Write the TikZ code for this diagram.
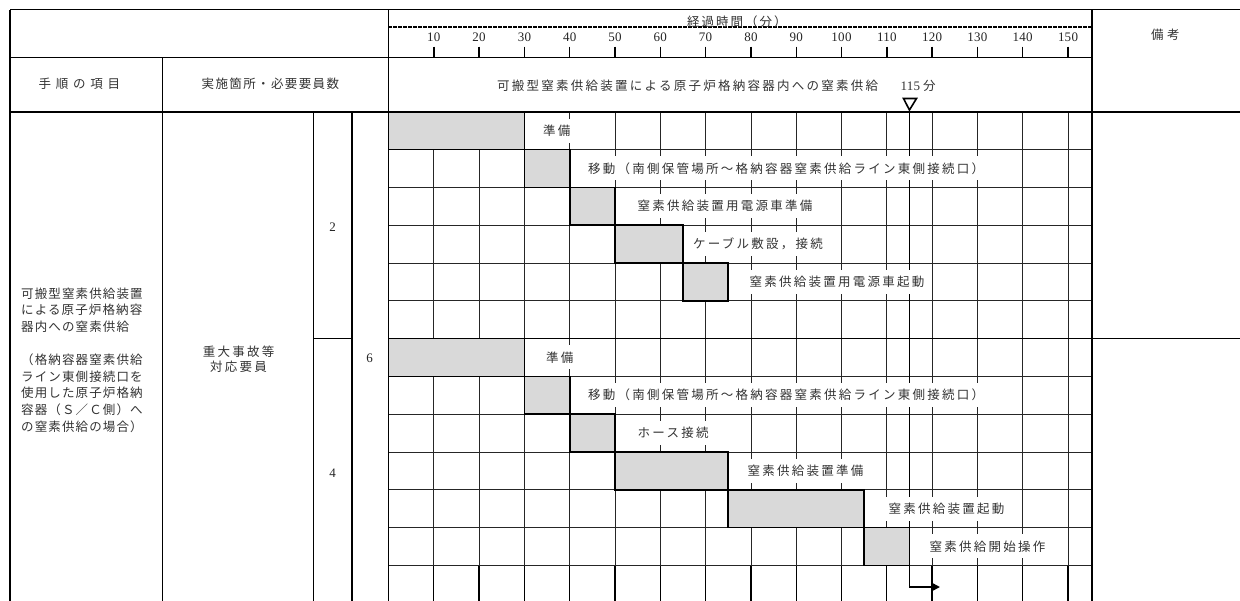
\documentclass[tikz,border=0pt]{standalone}
\usepackage{fontspec}
\setmainfont{Liberation Serif}
\newfontfamily\jpA{Noto Sans CJK JP}[LetterSpace=18]
\newfontfamily\jpB{Noto Sans CJK JP}[LetterSpace=9]
\newfontfamily\jpC{Noto Sans CJK JP}[LetterSpace=38]
\newfontfamily\jpD{Noto Sans CJK JP}[LetterSpace=11]
\newfontfamily\jpE{Noto Sans CJK JP}[LetterSpace=28]
\newfontfamily\jpF{Noto Sans CJK JP}[LetterSpace=16]
\newfontfamily\numf{Liberation Serif}[LetterSpace=2]
\usetikzlibrary{arrows.meta}
\newcommand{\tmX}[1]{388.5+4.53*(#1)}
\newcommand{\rwY}[1]{111.7+37.8*(#1)}
\tikzset{
  frameline/.style={line width=1.6pt, draw=black},
  midline/.style={line width=1.3pt, draw=black},
  gridline/.style={line width=0.8pt, draw=black!85},
  lowgrid/.style={line width=1.3pt, draw=black},
  tickline/.style={line width=1.4pt, draw=black},
  barbox/.style={fill=black!15, draw=black, line width=1.6pt},
  lbl/.style={fill=white, inner xsep=5pt, inner ysep=0pt, minimum height=24pt, anchor=west, text=black!80, font=\jpA\fontsize{12.5}{14}\selectfont},
  jtext/.style={inner sep=0pt, text=black!80},
  numtext/.style={inner sep=0pt, text=black!85, font=\numf\fontsize{13}{14}\selectfont},
}
\begin{document}
\begin{tikzpicture}[x=1pt,y=-1pt]
\useasboundingbox (0,0) rectangle (1240,600);
\fill[white] (0,0) rectangle (1240,600);
\clip (0,0) rectangle (1240,600);

% ---- grid in chart region ----
\foreach \t in {10,20,...,150}{
  \draw[gridline] ({\tmX{\t}},111.7) -- ({\tmX{\t}},{\rwY{12}});
  \draw[lowgrid] ({\tmX{\t}},{\rwY{12}}) -- ({\tmX{\t}},608);
  \draw[tickline] ({\tmX{\t}},46.5) -- ({\tmX{\t}},57.3);
  \node[numtext] (tick\t) at ({\tmX{\t}},37.5) {\t};
}
\foreach \r in {1,2,3,4,5,7,8,9,10,11,12}{
  \draw[gridline] (388.3,{\rwY{\r}}) -- (1091.7,{\rwY{\r}});
}

% ---- frame lines ----
\draw[frameline] (10,9.5) -- (1240,9.5);
\draw[frameline] (10,111.7) -- (1240,111.7);
\draw[midline] (10,57.3) -- (1091.7,57.3);
\draw[frameline] (313.3,{\rwY{6}}) -- (351.7,{\rwY{6}});
\draw[frameline] (388.3,{\rwY{6}}) -- (1240,{\rwY{6}});
\draw[frameline] (10,9.5) -- (10,608);
\draw[frameline] (388.3,9.5) -- (388.3,608);
\draw[frameline] (1091.7,9.5) -- (1091.7,608);
\draw[frameline] (162.3,57.3) -- (162.3,608);
\draw[frameline] (313.3,111.7) -- (313.3,608);
\draw[frameline] (351.7,111.7) -- (351.7,608);

% ---- time axis header ----
\draw[line width=1.6pt, dash pattern=on 3.5pt off 1.5pt] (388.3,27) -- (1091.7,27);
\node[jtext, anchor=west, font=\jpF\fontsize{12.5}{14}\selectfont] (elapsed) at (687,21.5) {経過時間（分）};
\node[jtext, anchor=west, font=\jpE\fontsize{12.5}{14}\selectfont] (remarks) at (1151,35) {備考};
\node[jtext, anchor=west, font=\jpC\fontsize{12.5}{14}\selectfont] (hitem) at (38.5,84) {手順の項目};
\node[jtext, anchor=west, font=\jpD\fontsize{12.5}{14}\selectfont] (hplace) at (201.5,84) {実施箇所・必要要員数};
\node[jtext, anchor=west, font=\jpA\fontsize{12.5}{14}\selectfont] (title) at (497,86) {可搬型窒素供給装置による原子炉格納容器内への窒素供給};
\node[jtext, anchor=west] (t115) at (900.5,86) {{\numf\fontsize{13}{14}\selectfont 115}\hspace{3pt}{\jpA\fontsize{12.5}{14}\selectfont 分}};
\draw[line width=1.6pt, line join=miter] (903.5,98.5) -- (916.5,98.5) -- ({\tmX{115}},110) -- cycle;

% ---- left columns ----
\node[jtext, anchor=west, align=left, font=\jpB\fontsize{12.5}{16.6}\selectfont] (proc) at (21,360)
  {可搬型窒素供給装置\\による原子炉格納容\\器内への窒素供給\\[16.6pt]（格納容器窒素供給\\ライン東側接続口を\\使用した原子炉格納\\容器（Ｓ／Ｃ側）へ\\の窒素供給の場合）};
\node[jtext, align=center, font=\jpA\fontsize{12.5}{14.5}\selectfont] (staff) at (238.5,359) {重大事故等\\対応要員};
\node[numtext] (n2) at (332.5,226.7) {2};
\node[numtext] (n4) at (332.5,473) {4};
\node[numtext] (n6) at (369.5,358) {6};

% ---- 115 min line ----
\coordinate (mtop) at ({\tmX{115}},111.7);
\coordinate (mbot) at ({\tmX{115}},587);
\coordinate (mend) at (940,587);
\draw[line width=1.8pt, -{Triangle[length=9pt,width=9pt]}] (mtop) -- (mbot) -- (mend);

% ---- bars ----
\foreach \r/\a/\b in {0/0/30, 1/30/40, 2/40/50, 3/50/65, 4/65/75, 6/0/30, 7/30/40, 8/40/50, 9/50/75, 10/75/105, 11/105/115}{
  \draw[barbox] ({\tmX{\a}},{\rwY{\r}}) rectangle ({\tmX{\b}},{\rwY{\r+1}});
}

% ---- labels ----
\node[lbl] (a0) at (538,{\rwY{0.5}}) {準備};
\node[lbl] (a1) at (583,{\rwY{1.5}}) {移動（南側保管場所～格納容器窒素供給ライン東側接続口）};
\node[lbl] (a2) at (632.5,{\rwY{2.5}}) {窒素供給装置用電源車準備};
\node[lbl] (a3) at (688,{\rwY{3.5}}) {ケーブル敷設，接続};
\node[lbl] (a4) at (744.5,{\rwY{4.5}}) {窒素供給装置用電源車起動};
\node[lbl] (b0) at (541,{\rwY{6.5}}) {準備};
\node[lbl] (b1) at (583,{\rwY{7.5}}) {移動（南側保管場所～格納容器窒素供給ライン東側接続口）};
\node[lbl] (b2) at (632.5,{\rwY{8.5}}) {ホース接続};
\node[lbl] (b3) at (742.5,{\rwY{9.5}}) {窒素供給装置準備};
\node[lbl] (b4) at (883.5,{\rwY{10.5}}) {窒素供給装置起動};
\node[lbl] (b5) at (924.5,{\rwY{11.5}}) {窒素供給開始操作};
\end{tikzpicture}
\end{document}
